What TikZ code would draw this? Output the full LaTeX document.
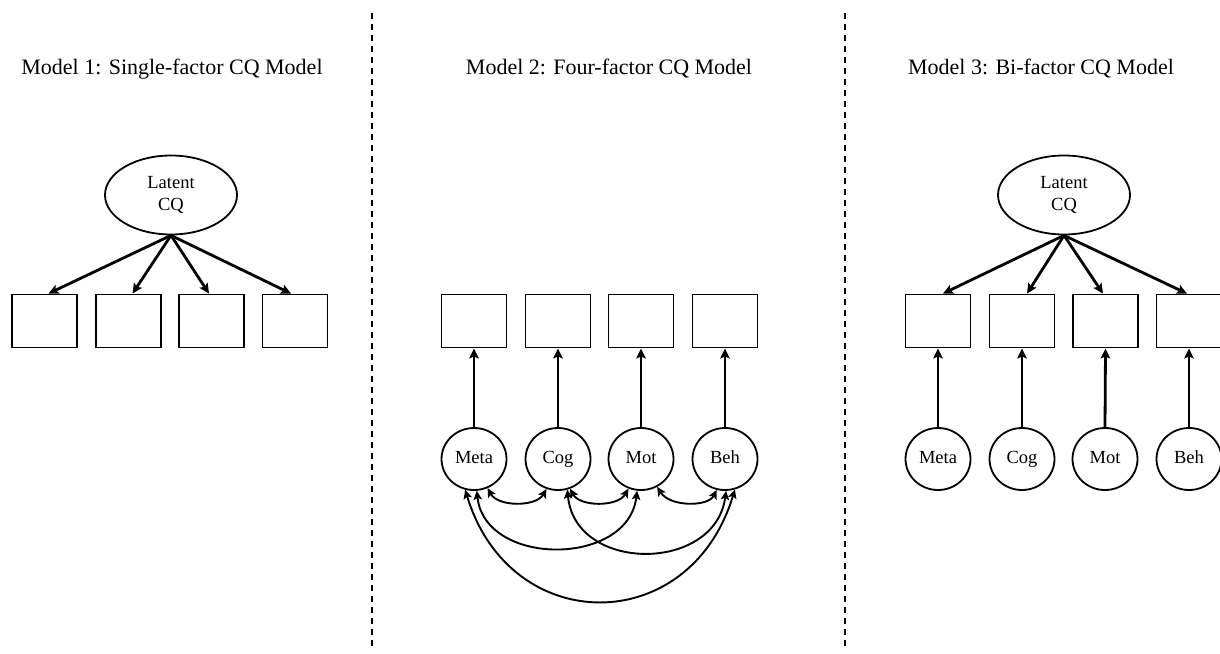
\documentclass[tikz,border=0pt]{standalone}
\usepackage{fontspec}
\setmainfont{Liberation Serif}
\usetikzlibrary{shapes.geometric,arrows.meta,calc}
\begin{document}
\begin{tikzpicture}[x=1pt,y=-1pt,
  title/.style={anchor=base,font=\fontsize{22}{26}\selectfont,inner sep=0pt},
  obsbox/.style={draw,line width=1.9pt,minimum width=65pt,minimum height=53pt,inner sep=0pt},
  latent/.style={draw,ellipse,line width=1.8pt,minimum width=132pt,minimum height=79pt,inner sep=0pt,align=center,font=\fontsize{18.5}{21.6}\selectfont},
  factor/.style={draw,ellipse,line width=1.8pt,minimum width=65pt,minimum height=62pt,inner sep=0pt,text height=12.5pt,text depth=4pt,font=\fontsize{18.5}{22}\selectfont},
  load/.style={line width=2.8pt,-{Stealth[length=10pt,width=9.5pt,inset=2pt]}},
  cov/.style={line width=1.9pt,{Stealth[length=9pt,width=8.5pt,inset=2pt]}-{Stealth[length=9pt,width=8.5pt,inset=2pt]}},
  sep/.style={line width=1.9pt,dash pattern=on 6pt off 5pt}
]
\useasboundingbox (0,0) rectangle (1220,653);
% separators
\draw[sep] (372,13) -- (372,650);
\draw[sep] (845,13) -- (845,650);
% titles
\node[title] (t1) at (172,74) {Model 1: Single-factor CQ Model};
\node[title] (t2) at (609,74) {Model 2: Four-factor CQ Model};
\node[title] (t3) at (1041,74) {Model 3: Bi-factor CQ Model};
% Model 1
\node[latent] (L1) at (171,195) {Latent\\CQ};
\node[obsbox] (a1) at (44.5,321) {};
\node[obsbox] (a2) at (128.5,321) {};
\node[obsbox] (a3) at (211.5,321) {};
\node[obsbox] (a4) at (295,321) {};
\draw[load] (L1.south) -- ($(a1.north)+(4,0)$);
\draw[load] (L1.south) -- ($(a2.north)+(4,0)$);
\draw[load] (L1.south) -- ($(a3.north)+(-2.5,0)$);
\draw[load] (L1.south) -- ($(a4.north)+(-4,0)$);
% Model 2
\node[obsbox] (b1) at (474,321) {};
\node[obsbox] (b2) at (558,321) {};
\node[obsbox] (b3) at (641,321) {};
\node[obsbox] (b4) at (725,321) {};
\node[factor] (meta) at (474,459) {Meta};
\node[factor] (cog) at (558,459) {Cog};
\node[factor] (mot) at (641,459) {Mot};
\node[factor] (beh) at (725,459) {Beh};
\draw[load] (meta.north) -- (b1.south);
\draw[load] (cog.north) -- (b2.south);
\draw[load] (mot.north) -- (b3.south);
\draw[load] (beh.north) -- (b4.south);
\draw[cov] (meta.-65) .. controls (498,507) and (536,507) .. (cog.-111);
\draw[cov] (cog.-68) .. controls (580,507) and (618,507) .. (mot.-113);
\draw[cov] (mot.-60) .. controls (670,507) and (708,507) .. (beh.-105);
\draw[cov] (meta.-85) .. controls (485,567) and (628,567) .. (mot.-97);
\draw[cov] (cog.-73) .. controls (575,573) and (715,573) .. (beh.-88);
\draw[cov] (meta.-106) .. controls (510,638) and (690,638) .. (beh.-72);
% Model 3
\node[latent] (L3) at (1064,195) {Latent\\CQ};
\node[obsbox] (c1) at (938,321) {};
\node[obsbox] (c2) at (1022,321) {};
\node[obsbox] (c3) at (1105.5,321) {};
\node[obsbox] (c4) at (1189,321) {};
\draw[load] (L3.south) -- ($(c1.north)+(5,0)$);
\draw[load] (L3.south) -- ($(c2.north)+(5,0)$);
\draw[load] (L3.south) -- ($(c3.north)+(-2.5,0)$);
\draw[load] (L3.south) -- ($(c4.north)+(-2,0)$);
\node[factor] (meta3) at (938,459) {Meta};
\node[factor] (cog3) at (1022,459) {Cog};
\node[factor] (mot3) at (1105,459) {Mot};
\node[factor] (beh3) at (1189,459) {Beh};
\draw[load] (meta3.north) -- (c1.south);
\draw[load] (cog3.north) -- (c2.south);
\draw[load] (mot3.north) -- (c3.south);
\draw[load] (beh3.north) -- (c4.south);
\end{tikzpicture}
\end{document}
